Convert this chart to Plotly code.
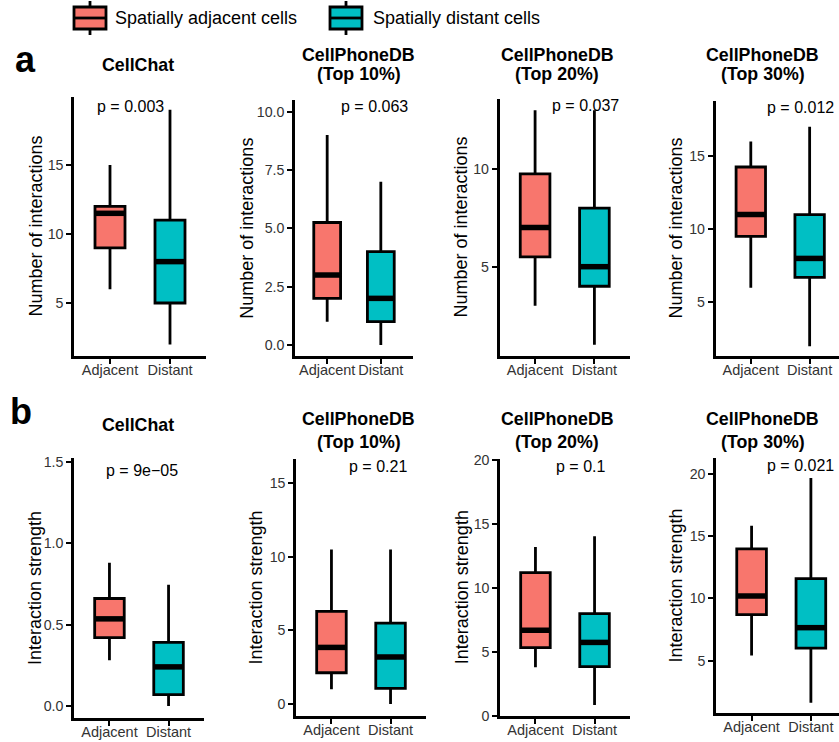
import plotly.graph_objects as go

W, H = 839, 742

# ---------------- data ----------------
categories = ["Adjacent", "Distant"]
group_names = ["Spatially adjacent cells", "Spatially distant cells"]
group_colors = ["#F8766D", "#00BFC4"]

panel_titles = ["CellChat", "CellPhoneDB<br>(Top 10%)", "CellPhoneDB<br>(Top 20%)", "CellPhoneDB<br>(Top 30%)"]
row_labels = ["a", "b"]
row_ytitles = ["Number of interactions", "Interaction strength"]

# box statistics per panel: [Adjacent, Distant]
a_lower = [[6, 2], [1, 0], [3, 1], [6, 2]]
a_q1 = [[9, 5], [2, 1], [5.5, 4], [9.5, 6.7]]
a_median = [[11.5, 8], [3, 2], [7, 5], [11, 8]]
a_q3 = [[12, 11], [5.25, 4], [9.75, 8], [14.25, 11]]
a_upper = [[15, 19], [9, 7], [13, 13], [16, 17]]
a_pvalues = ["p = 0.003", "p = 0.063", "p = 0.037", "p = 0.012"]

b_lower = [[0.28, 0.0], [1.0, 0.0], [3.8, 0.86], [5.4, 1.6]]
b_q1 = [[0.42, 0.07], [2.13, 1.06], [5.35, 3.85], [8.7, 6.0]]
b_median = [[0.535, 0.24], [3.85, 3.2], [6.7, 5.75], [10.2, 7.65]]
b_q3 = [[0.66, 0.39], [6.3, 5.5], [11.2, 8.0], [14.0, 11.6]]
b_upper = [[0.88, 0.745], [10.5, 10.5], [13.2, 14.05], [15.85, 19.7]]
b_pvalues = ["p = 9e\u221205", "p = 0.21", "p = 0.1", "p = 0.021"]

a_yticks = [[5, 10, 15], [0, 2.5, 5, 7.5, 10], [5, 10], [5, 10, 15]]
b_yticks = [[0, 0.5, 1.0, 1.5], [0, 5, 10, 15], [0, 5, 10, 15, 20], [5, 10, 15, 20]]
a_ytickfmt = ["d", ".1f", "d", "d"]
b_ytickfmt = [".1f", "d", "d", "d"]

# ---------------- layout (pixels) ----------------
a_xdom = [(74, 206), (295, 413), (499.5, 630), (715.5, 839)]
a_ydom = [(97, 356), (100, 356), (99, 356), (101, 356)]
a_yrange = [(1.16, 19.93), (-0.47, 10.5), (0.43, 13.58), (1.33, 18.76)]
a_xrange = [(0.4, 2.6), (0.4, 2.6), (0.4, 2.6), (0.4, 2.499)]

b_xdom = [(74, 204), (296, 426), (500, 630), (716, 839)]
b_ydom = [(458, 718), (459, 716), (459, 716), (458, 713)]
b_yrange = [(-0.074, 1.523), (-0.81, 16.65), (0.0, 20.08), (0.78, 21.31)]
b_xrange = [(0.4, 2.6), (0.4, 2.6), (0.4, 2.6), (0.4, 2.474)]

title_x = [137.7, 358.8, 557, 762.7]
a_title_y1, a_title_y2, a_title_single = 55, 74, 65
b_title_y1, b_title_y2, b_title_single = 419, 441.5, 425

a_ptxt = [(130.8, 106.7), (374.5, 106.7), (585.5, 106), (800.3, 107.7)]
b_ptxt = [(142.2, 470), (378.3, 466.7), (580, 466.7), (800, 465)]

a_ytitle_x = [35, 246.7, 460, 675]
b_ytitle_x = [35, 255, 461.7, 675]

FONT = "Liberation Sans, Arial, Helvetica, sans-serif"
TICKCOL = "#333333"


def fx(px):
    return px / W


def fy(py):
    return 1 - py / H


fig = go.Figure()
annotations = []
shapes = []
layout_axes = {}

rows = [
    dict(lower=a_lower, q1=a_q1, med=a_median, q3=a_q3, upper=a_upper, p=a_pvalues,
         ticks=a_yticks, fmt=a_ytickfmt, xdom=a_xdom, ydom=a_ydom, yr=a_yrange, xr=a_xrange,
         ty1=a_title_y1, ty2=a_title_y2, tys=a_title_single, ptxt=a_ptxt, ytx=a_ytitle_x),
    dict(lower=b_lower, q1=b_q1, med=b_median, q3=b_q3, upper=b_upper, p=b_pvalues,
         ticks=b_yticks, fmt=b_ytickfmt, xdom=b_xdom, ydom=b_ydom, yr=b_yrange, xr=b_xrange,
         ty1=b_title_y1, ty2=b_title_y2, tys=b_title_single, ptxt=b_ptxt, ytx=b_ytitle_x),
]

box_width = 0.5
idx = 0
for r, R in enumerate(rows):
    for c in range(4):
        idx += 1
        xa = "x" if idx == 1 else f"x{idx}"
        ya = "y" if idx == 1 else f"y{idx}"
        for g in range(2):
            xpos = g + 1
            fig.add_trace(go.Box(
                x=[xpos], q1=[R["q1"][c][g]], median=[R["med"][c][g]], q3=[R["q3"][c][g]],
                lowerfence=[R["lower"][c][g]], upperfence=[R["upper"][c][g]],
                width=box_width, whiskerwidth=0, boxpoints=False,
                fillcolor=group_colors[g], line=dict(color="black", width=2.8),
                name=group_names[g], showlegend=False, hoverinfo="skip",
                xaxis=xa, yaxis=ya,
            ))
            fig.add_trace(go.Scatter(
                x=[xpos - box_width / 2, xpos + box_width / 2],
                y=[R["med"][c][g], R["med"][c][g]],
                mode="lines", line=dict(color="black", width=5.5),
                showlegend=False, hoverinfo="skip", xaxis=xa, yaxis=ya,
            ))
        x0, x1 = R["xdom"][c]
        yt, yb = R["ydom"][c]
        axis_common = dict(showgrid=False, zeroline=False, showline=True, linecolor="black",
                           linewidth=2.5, ticks="outside", ticklen=5, tickwidth=2,
                           tickcolor="black", automargin=False)
        layout_axes["xaxis" if idx == 1 else f"xaxis{idx}"] = dict(
            domain=[fx(x0), min(1.0, fx(x1))], range=list(R["xr"][c]),
            tickvals=[1, 2], ticktext=categories, anchor=ya, fixedrange=True,
            tickangle=0, ticklabelstandoff=-6,
            tickfont=dict(family=FONT, size=14.5, color=TICKCOL), **axis_common)
        layout_axes["yaxis" if idx == 1 else f"yaxis{idx}"] = dict(
            domain=[fy(yb), fy(yt)], range=list(R["yr"][c]),
            tickvals=R["ticks"][c], tickformat=R["fmt"][c], anchor=xa, fixedrange=True,
            tickfont=dict(family=FONT, size=14.2, color=TICKCOL), **axis_common)

        t = panel_titles[c]
        lines = t.split("<br>")
        ys = [R["ty1"], R["ty2"]] if len(lines) == 2 else [R["tys"]]
        for ln, yy in zip(lines, ys):
            annotations.append(dict(text=f"<b>{ln}</b>", x=fx(title_x[c]), y=fy(yy),
                                    xref="paper", yref="paper", showarrow=False,
                                    xanchor="center", yanchor="middle",
                                    font=dict(family=FONT, size=17.8, color="black")))
        px_, py_ = R["ptxt"][c]
        annotations.append(dict(text=R["p"][c], x=fx(px_), y=fy(py_), xref="paper", yref="paper",
                                showarrow=False, xanchor="center", yanchor="middle",
                                font=dict(family=FONT, size=16, color="black")))
        annotations.append(dict(text=row_ytitles[r], x=fx(R["ytx"][c]), y=fy((yt + yb) / 2),
                                xref="paper", yref="paper", showarrow=False, textangle=-90,
                                xanchor="center", yanchor="middle",
                                font=dict(family=FONT, size=18, color="black")))

for lbl, (lx, ly) in zip(row_labels, [(25, 60), (21, 411)]):
    annotations.append(dict(text=f"<b>{lbl}</b>", x=fx(lx), y=fy(ly), xref="paper", yref="paper",
                            showarrow=False, xanchor="center", yanchor="middle",
                            font=dict(family=FONT, size=36, color="black")))

legend_keys = [(74, 106, 113), (330, 362, 370.5)]
for g, (kx0, kx1, tx) in enumerate(legend_keys):
    kc = (kx0 + kx1) / 2
    shapes.append(dict(type="line", xref="paper", yref="paper", x0=fx(kc), x1=fx(kc),
                       y0=fy(1), y1=fy(35), line=dict(color="black", width=2.8)))
    shapes.append(dict(type="rect", xref="paper", yref="paper", x0=fx(kx0), x1=fx(kx1),
                       y0=fy(7), y1=fy(29), fillcolor=group_colors[g],
                       line=dict(color="black", width=2.8)))
    shapes.append(dict(type="line", xref="paper", yref="paper", x0=fx(kx0), x1=fx(kx1),
                       y0=fy(18), y1=fy(18), line=dict(color="black", width=2.8)))
    annotations.append(dict(text=group_names[g], x=fx(tx), y=fy(18), xref="paper", yref="paper",
                            showarrow=False, xanchor="left", yanchor="middle",
                            font=dict(family=FONT, size=18, color="black")))

fig.update_layout(
    width=W, height=H, autosize=False,
    margin=dict(l=0, r=0, t=0, b=0, autoexpand=False),
    paper_bgcolor="white", plot_bgcolor="white",
    showlegend=False,
    annotations=annotations, shapes=shapes,
    font=dict(family=FONT),
    **layout_axes,
)

fig.write_html("out.html")
